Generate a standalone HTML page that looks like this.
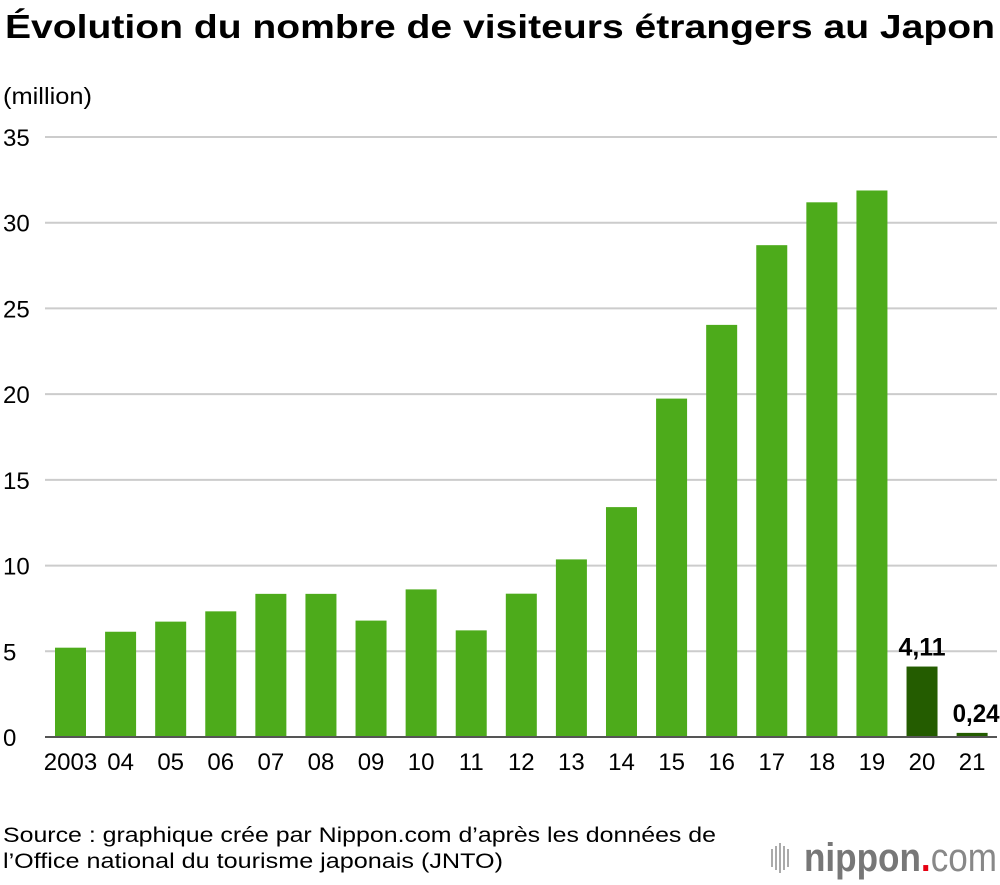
<!DOCTYPE html>
<html><head><meta charset="utf-8"><style>
body{margin:0;background:#fff;}
svg text{font-family:"Liberation Sans",Arial,sans-serif;}
</style></head><body>
<svg id="chart" width="1000" height="880" viewBox="0 0 1000 880" xmlns="http://www.w3.org/2000/svg">
<text x="500" y="38" text-anchor="middle" font-size="33" font-weight="bold" fill="#000" textLength="990" lengthAdjust="spacingAndGlyphs">Évolution du nombre de visiteurs étrangers au Japon</text>
<text x="3" y="104" font-size="23" fill="#000" textLength="89" lengthAdjust="spacingAndGlyphs">(million)</text>
<g id="grid"></g>
<g id="bars"></g>
<g id="xlabels"></g>
<line x1="45" y1="737" x2="997" y2="737" stroke="#555" stroke-width="2"/>
<text x="3" y="842" font-size="21" fill="#000" textLength="713" lengthAdjust="spacingAndGlyphs">Source : graphique crée par Nippon.com d’après les données de</text>
<text x="3" y="868" font-size="21" fill="#000" textLength="500" lengthAdjust="spacingAndGlyphs">l’Office national du tourisme japonais (JNTO)</text>
<g>
<g fill="#aaa"><rect x="771" y="849" width="2" height="18"/><rect x="775" y="846" width="2" height="24"/><rect x="779" y="843" width="2" height="30"/><rect x="783" y="846" width="2" height="24"/><rect x="787" y="849" width="2" height="18"/></g>
<text x="804" y="871" font-size="40" fill="#777" font-weight="bold" textLength="193" lengthAdjust="spacingAndGlyphs">nippon<tspan fill="#e60012">.</tspan><tspan font-weight="normal" fill="#888">com</tspan></text>
</g>
</svg>
<script>
const categories=["2003","04","05","06","07","08","09","10","11","12","13","14","15","16","17","18","19","20","21"];
const visitors=[5.21,6.14,6.73,7.33,8.35,8.35,6.79,8.61,6.22,8.36,10.36,13.41,19.74,24.04,28.69,31.19,31.88,4.11,0.24];
const highlighted=["20","21"];
const valueLabels={"20":"4,11","21":"0,24"};
const yTicks=[0,5,10,15,20,25,30,35];
const NS="http://www.w3.org/2000/svg";
const y0=737,y35=137;
function yScale(v){return y0-(y0-y35)*v/35;}
function xScale(i){return 70.5+i*50.09;}
const grid=document.getElementById('grid'),bars=document.getElementById('bars'),xl=document.getElementById('xlabels');
function mk(t,a,p){const e=document.createElementNS(NS,t);for(const k in a)e.setAttribute(k,a[k]);p.appendChild(e);return e;}
yTicks.forEach(t=>{
 const y=yScale(t);
 if(t>0){const l=mk('line',{x1:45,x2:997,y1:y,y2:y,stroke:'#ccc','stroke-width':2},grid);
 
 }
 const tx=mk('text',{x:3,y:y+9,'font-size':24,fill:'#000'},grid);
 tx.textContent=t;
 
 
});
categories.forEach((c,i)=>{
 const v=visitors[i],x=xScale(i),y=yScale(v);
 const hl=highlighted.includes(c);
 const r=mk('rect',{x:x-15.5,y:y,width:31,height:y0-y,fill:hl?'#245c00':'#4dab1b'},bars);
 
 
 const t=mk('text',{x:x,y:770,'font-size':24,'text-anchor':'middle',fill:'#000'},xl);
 t.textContent=c;
 
 
 if(valueLabels[c]){
  const vl=mk('text',{x:x+(c==="21"?4:0),y:y-11,'font-size':25,'font-weight':'bold','text-anchor':'middle',fill:'#000',textLength:47,lengthAdjust:'spacingAndGlyphs'},bars);
  vl.textContent=valueLabels[c];
  
  
 }
});
</script>
</body></html>
